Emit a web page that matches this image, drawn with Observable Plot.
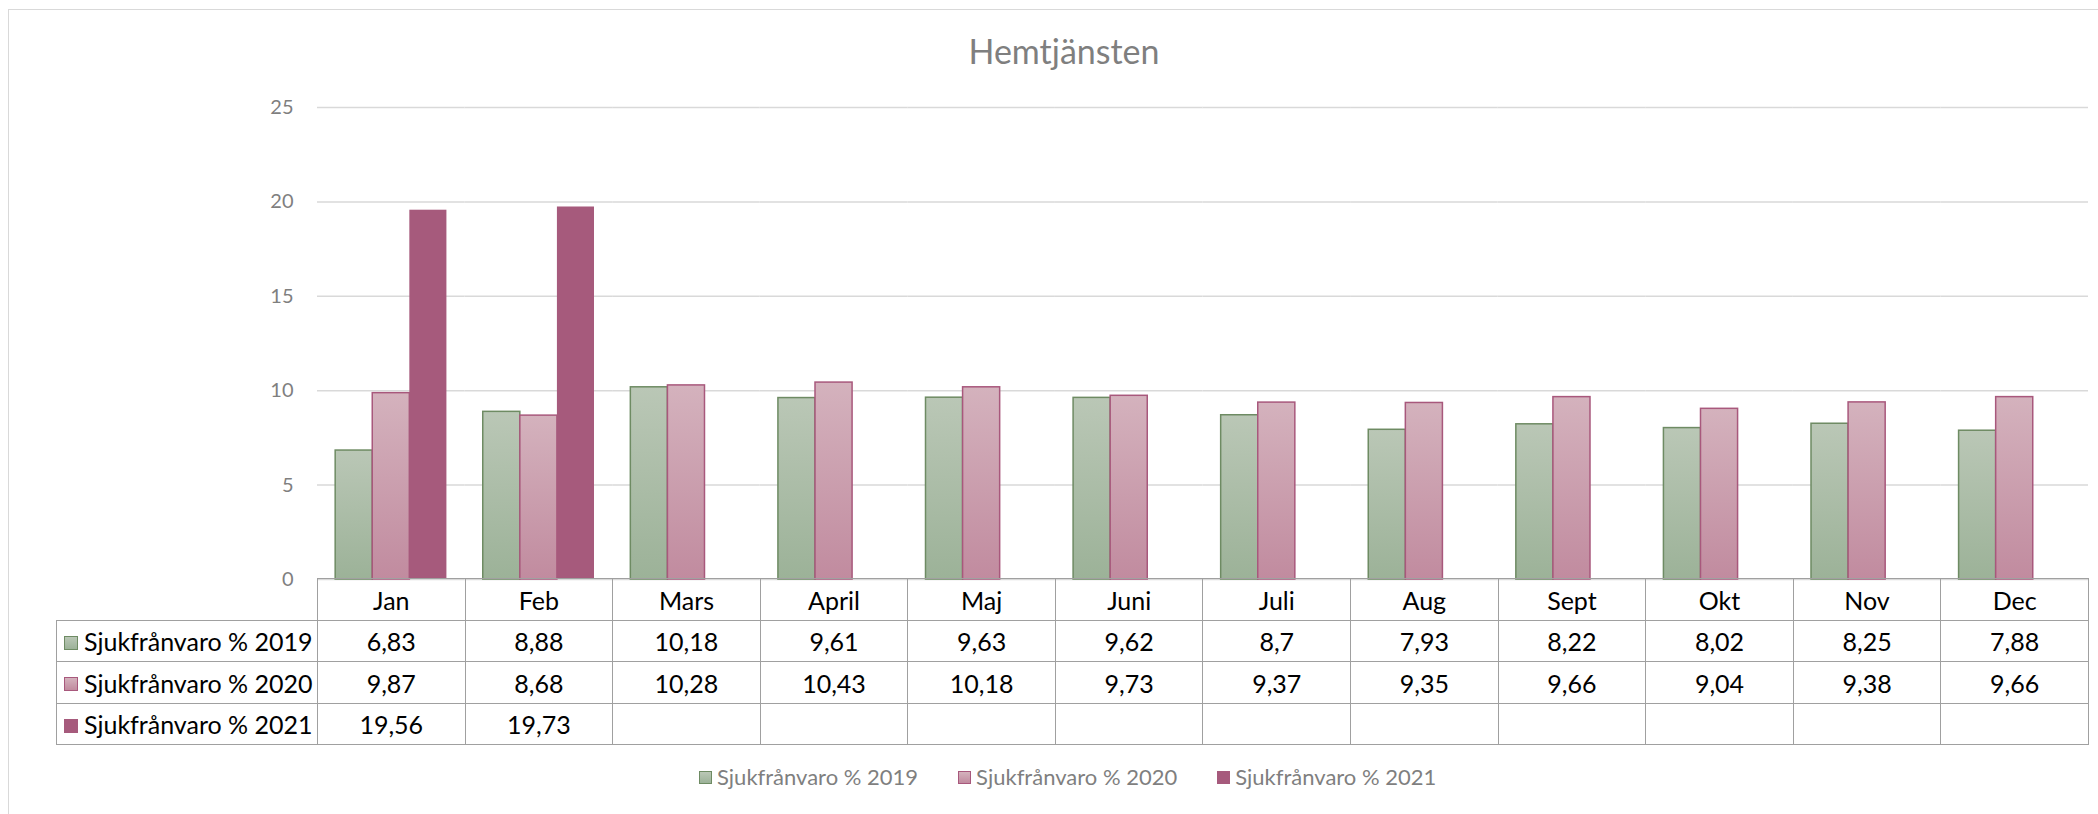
<!DOCTYPE html>
<html>
<head>
<meta charset="utf-8">
<script src="https://cdn.jsdelivr.net/npm/d3@7"></script>
<script src="https://cdn.jsdelivr.net/npm/@observablehq/plot@0.6"></script>
<style>
  html, body { margin:0; padding:0; background:#fff; width:2098px; height:814px; overflow:hidden;
    font-family: Lato, "Open Sans", sans-serif; }
  #stage { position:relative; width:2098px; height:814px; }
  #frame { position:absolute; left:8px; top:9px; width:2200px; height:900px; border:1.5px solid #d9d9d9; box-sizing:border-box; }
  #title { position:absolute; top:34px; left:1064px; transform:translateX(-50%); font-size:34px; line-height:1; color:#7f7f7f; white-space:nowrap; }
  #chart { position:absolute; left:0; top:0; }
  table.dt { position:absolute; border-collapse:collapse; table-layout:fixed; font-size:25px; color:#000; }
  table.dt td { border:1.5px solid #a0a0a0; padding:0; text-align:center; white-space:nowrap; overflow:hidden; }
  table.dt td.corner { border-top:none; border-left:none; }
  table.dt td.label { text-align:left; padding-left:7px; }
  .sw { display:inline-block; box-sizing:border-box; vertical-align:middle; }
  table.dt .sw { width:14px; height:14px; margin-right:6px; position:relative; top:-2px; }
  #legend { position:absolute; left:699px; top:764px; display:flex; gap:40px; font-size:22px; color:#7f7f7f; line-height:26px; white-space:nowrap; }
  #legend .item { display:flex; align-items:center; }
  #legend .sw { width:13px; height:13px; margin-right:5px; }
</style>
</head>
<body>
<div id="stage">
  <div id="frame"></div>
  <div id="title">Hemtjänsten</div>
</div>
<script>
// ---- data ----
const months = ["Jan", "Feb", "Mars", "April", "Maj", "Juni", "Juli", "Aug", "Sept", "Okt", "Nov", "Dec"];
const seriesNames = ["Sjukfrånvaro % 2019", "Sjukfrånvaro % 2020", "Sjukfrånvaro % 2021"];
const v2019 = [6.83, 8.88, 10.18, 9.61, 9.63, 9.62, 8.7, 7.93, 8.22, 8.02, 8.25, 7.88];
const v2020 = [9.87, 8.68, 10.28, 10.43, 10.18, 9.73, 9.37, 9.35, 9.66, 9.04, 9.38, 9.66];
const v2021 = [19.56, 19.73, null, null, null, null, null, null, null, null, null, null];
const yTicks = [0, 5, 10, 15, 20, 25];

// ---- styles ----
const styles = [
  {id: "g2019", top: "#bac7b6", bottom: "#9cb298", stroke: "#6e8b63", solid: null},
  {id: "g2020", top: "#d4b2bd", bottom: "#c18b9f", stroke: "#a8587c", solid: null},
  {id: "g2021", top: null, bottom: null, stroke: "none", solid: "#a65a7c"}
];
const fillOf = s => s.solid ? s.solid : `url(#${s.id})`;
const cssFill = s => s.solid ? s.solid : `linear-gradient(${s.top}, ${s.bottom})`;

const seriesValues = [v2019, v2020, v2021];
const rows = [];
seriesValues.forEach((vals, i) => vals.forEach((v, j) => {
  if (v != null) rows.push({month: months[j], series: seriesNames[i], value: v});
}));

const fontStack = "Lato, 'Open Sans', sans-serif";

const chart = Plot.plot({
  width: 2098,
  height: 590,
  marginLeft: 317,
  marginRight: 10,
  marginTop: 107,
  marginBottom: 11,
  style: {fontFamily: fontStack, fontSize: "20px", color: "#7f7f7f", background: "transparent", overflow: "visible"},
  fx: {domain: months, padding: 0, round: false, axis: null},
  x: {domain: seriesNames, paddingInner: 0, paddingOuter: 0.49, round: false, axis: null},
  y: {domain: [0, 25], axis: null},
  marks: [
    Plot.gridY({ticks: yTicks, stroke: "#d9d9d9", strokeOpacity: 1, strokeWidth: 1.5}),
    Plot.axisY({ticks: yTicks, label: null, tickSize: 0, tickPadding: 24, fontSize: 20, fill: "#7f7f7f"}),
    ...seriesNames.map((s, i) => Plot.barY(rows.filter(d => d.series === s), {
      fx: "month", x: "series", y: "value",
      fill: fillOf(styles[i]), stroke: styles[i].stroke, strokeWidth: 1.5
    }))
  ]
});
chart.id = "chart";

// gradient defs
const defs = d3.select(chart).insert("defs", ":first-child");
styles.filter(s => !s.solid).forEach(s => {
  const g = defs.append("linearGradient").attr("id", s.id).attr("x1", 0).attr("y1", 0).attr("x2", 0).attr("y2", 1);
  g.append("stop").attr("offset", "0%").attr("stop-color", s.top);
  g.append("stop").attr("offset", "100%").attr("stop-color", s.bottom);
});

const stage = document.getElementById("stage");
stage.appendChild(chart);

// ---- data table below the plot, aligned to the fx scale ----
const fx = chart.scale("fx");
const yS = chart.scale("y");
const tableLeft = 56;
const labelW = fx.apply(months[0]) - tableLeft;
const colW = fx.bandwidth;
const rowH = 41.5;
const fmt = v => v == null ? "" : String(v).replace(".", ",");

const table = document.createElement("table");
table.className = "dt";
table.style.left = tableLeft + "px";
table.style.top = (yS.apply(0) - 0.75) + "px";
table.style.width = (labelW + colW * months.length) + "px";
const cg = document.createElement("colgroup");
[labelW, ...months.map(() => colW)].forEach(w => {
  const c = document.createElement("col"); c.style.width = w + "px"; cg.appendChild(c);
});
table.appendChild(cg);
const head = document.createElement("tr");
head.style.height = rowH + "px";
const corner = document.createElement("td"); corner.className = "corner"; head.appendChild(corner);
months.forEach(m => { const td = document.createElement("td"); td.textContent = m; head.appendChild(td); });
table.appendChild(head);
seriesNames.forEach((s, i) => {
  const tr = document.createElement("tr");
  tr.style.height = rowH + "px";
  const lab = document.createElement("td"); lab.className = "label";
  const sw = document.createElement("span"); sw.className = "sw";
  sw.style.background = cssFill(styles[i]);
  if (!styles[i].solid) sw.style.border = `1.5px solid ${styles[i].stroke}`;
  lab.appendChild(sw);
  lab.appendChild(document.createTextNode(s));
  tr.appendChild(lab);
  seriesValues[i].forEach(v => { const td = document.createElement("td"); td.textContent = fmt(v); tr.appendChild(td); });
  table.appendChild(tr);
});
stage.appendChild(table);

// ---- legend ----
const legend = document.createElement("div");
legend.id = "legend";
seriesNames.forEach((s, i) => {
  const it = document.createElement("div"); it.className = "item";
  const sw = document.createElement("span"); sw.className = "sw";
  sw.style.background = cssFill(styles[i]);
  if (!styles[i].solid) sw.style.border = `1.5px solid ${styles[i].stroke}`;
  it.appendChild(sw);
  const t = document.createElement("span"); t.textContent = s; it.appendChild(t);
  legend.appendChild(it);
});
stage.appendChild(legend);
</script>
</body>
</html>
